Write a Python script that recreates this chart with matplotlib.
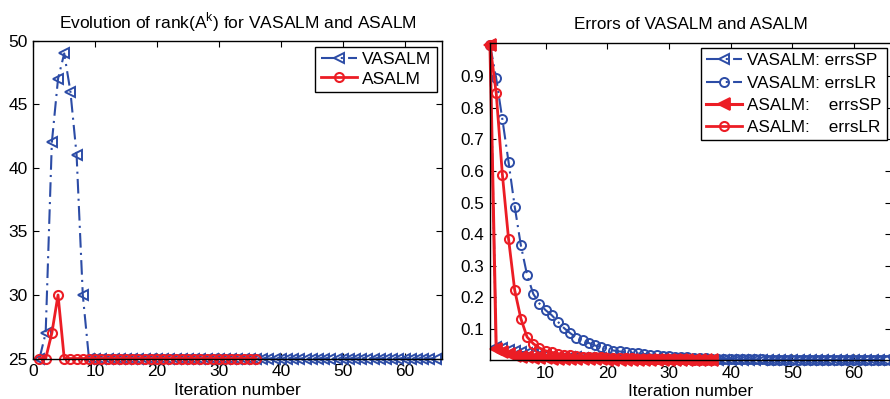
##############################################################################
# 1. modules
##############################################################################
import matplotlib

matplotlib.use("Agg")
import matplotlib.pyplot as plt

##############################################################################
# 2. settings / data
##############################################################################
OUT = "out.png"
BLUE = "#2c4ca6"
RED = "#ec1d25"
DASHDOT = (0, (7, 2.5, 1, 2.5))

plt.rcParams["font.family"] = ["Liberation Sans", "DejaVu Sans"]

# left panel: rank(A^k)
rank_vasalm = [25, 27, 42, 47, 49, 46, 41, 30] + [25] * 57
rank_asalm = [25, 25, 27, 30] + [25] * 32

# right panel: errors
vasalm_errs_sp = [
    1.0, 0.042, 0.038, 0.034, 0.030, 0.027, 0.024, 0.021, 0.018, 0.016,
    0.014, 0.012, 0.011, 0.010, 0.009, 0.008, 0.007, 0.006, 0.006, 0.005,
    0.005, 0.004, 0.004, 0.004, 0.003, 0.003, 0.003, 0.003, 0.003, 0.002,
    0.002, 0.002, 0.002, 0.002, 0.002, 0.002, 0.002, 0.002, 0.002, 0.002,
    0.002, 0.002, 0.001, 0.001, 0.001, 0.001, 0.001, 0.001, 0.001, 0.001,
    0.001, 0.001, 0.001, 0.001, 0.001, 0.001, 0.001, 0.001, 0.001, 0.001,
    0.001, 0.001, 0.001, 0.001, 0.001,
]
vasalm_errs_lr = [
    1.0, 0.894, 0.764, 0.629, 0.487, 0.364, 0.271, 0.211, 0.180, 0.159,
    0.143, 0.122, 0.102, 0.086, 0.072, 0.063, 0.055, 0.047, 0.042, 0.036,
    0.031, 0.028, 0.026, 0.024, 0.022, 0.020, 0.018, 0.016, 0.015, 0.014,
    0.012, 0.011, 0.009, 0.008, 0.007, 0.006, 0.005, 0.005, 0.004, 0.004,
    0.003, 0.003, 0.003, 0.003, 0.003, 0.002, 0.002, 0.002, 0.002, 0.002,
    0.002, 0.002, 0.002, 0.002, 0.002, 0.001, 0.001, 0.001, 0.001, 0.001,
    0.001, 0.001, 0.001, 0.001, 0.001,
]
asalm_errs_sp = [
    1.0, 0.035, 0.026, 0.019, 0.014, 0.011, 0.009, 0.008, 0.007, 0.006,
    0.005, 0.005, 0.004, 0.004, 0.004, 0.003, 0.003, 0.003, 0.003, 0.002,
    0.002, 0.002, 0.002, 0.002, 0.002, 0.002, 0.001, 0.001, 0.001, 0.001,
    0.001, 0.001, 0.001, 0.001, 0.001, 0.001, 0.001,
]
asalm_errs_lr = [
    1.0, 0.847, 0.589, 0.385, 0.222, 0.132, 0.074, 0.053, 0.039, 0.030,
    0.025, 0.021, 0.018, 0.016, 0.014, 0.012, 0.011, 0.010, 0.009, 0.008,
    0.007, 0.007, 0.006, 0.006, 0.005, 0.005, 0.004, 0.004, 0.004, 0.003,
    0.003, 0.003, 0.003, 0.002, 0.002, 0.002, 0.002,
]


##############################################################################
# 3. helpers
##############################################################################
def iters(values):
    return list(range(1, len(values) + 1))


def style_axes(ax, fs):
    ax.tick_params(direction="in", top=True, right=True, length=4,
                   width=0.8, labelsize=fs, pad=4)
    for sp in ax.spines.values():
        sp.set_linewidth(1.0)


def add_legend(ax, anchor, fs, spacing):
    leg = ax.legend(loc="upper right", bbox_to_anchor=anchor,
                    bbox_transform=ax.figure.transFigure, fontsize=fs,
                    fancybox=False, framealpha=1, edgecolor="black",
                    handlelength=2.1, handletextpad=0.3, borderpad=0.3,
                    labelspacing=spacing, borderaxespad=0)
    leg.get_frame().set_linewidth(1.0)
    leg.set_zorder(10)


def plot_rank(fig):
    fs = 12.5
    ax = fig.add_axes([0.0374, 0.1015, 0.4589, 0.7965])
    ax.plot(iters(rank_vasalm), rank_vasalm, linestyle=DASHDOT, color=BLUE,
            linewidth=1.5, marker="<", markersize=7, markerfacecolor="none",
            markeredgewidth=1.4, label="VASALM", clip_on=False)
    ax.plot(iters(rank_asalm), rank_asalm, "-", color=RED, linewidth=2.0,
            marker="o", markersize=6.5, markerfacecolor="none",
            markeredgewidth=1.5, label="ASALM", clip_on=False)
    ax.set_xlim(0, 66)
    ax.set_ylim(25, 50)
    ax.set_xticks(range(0, 61, 10))
    ax.set_yticks(range(25, 51, 5))
    style_axes(ax, fs)
    ax.set_title("Evolution of rank(A$^{\\mathregular{k}}$) for VASALM and ASALM",
                 fontsize=fs, pad=9)
    ax.set_xlabel("Iteration number", fontsize=fs, labelpad=2.5)
    add_legend(ax, (436.7 / 890, 1 - 46.7 / 399), fs, 0.25)


def plot_errors(fig):
    fs = 12.3
    ax = fig.add_axes([0.5506, 0.097, 0.4506, 0.7945])
    ax.plot(iters(vasalm_errs_sp), vasalm_errs_sp, linestyle=DASHDOT,
            color=BLUE, linewidth=1.5, marker="<", markersize=7,
            markerfacecolor="none", markeredgewidth=1.4,
            label="VASALM: errsSP", clip_on=False)
    ax.plot(iters(vasalm_errs_lr), vasalm_errs_lr, linestyle=DASHDOT,
            color=BLUE, linewidth=1.5, marker="o", markersize=6.5,
            markerfacecolor="none", markeredgewidth=1.4,
            label="VASALM: errsLR", clip_on=False)
    ax.plot(iters(asalm_errs_sp), asalm_errs_sp, "-", color=RED,
            linewidth=2.2, marker="<", markersize=9, markerfacecolor=RED,
            markeredgewidth=1.3, label="ASALM:    errsSP", clip_on=False)
    ax.plot(iters(asalm_errs_lr), asalm_errs_lr, "-", color=RED,
            linewidth=2.0, marker="o", markersize=6.5, markerfacecolor="none",
            markeredgewidth=1.5, label="ASALM:    errsLR", clip_on=False)
    ax.set_xlim(1, 66)
    ax.set_ylim(0, 1.005)
    ax.set_xticks(range(10, 61, 10))
    ax.set_yticks([0.1, 0.2, 0.3, 0.4, 0.5, 0.6, 0.7, 0.8, 0.9])
    style_axes(ax, fs)
    ax.set_title("Errors of VASALM and ASALM", fontsize=fs, pad=10)
    ax.set_xlabel("Iteration number", fontsize=fs, labelpad=2)
    add_legend(ax, (886.7 / 890, 1 - 48.3 / 399), fs, 0.42)


##############################################################################
# 4. main
##############################################################################
def main():
    fig = plt.figure(figsize=(8.9, 3.99), dpi=100)
    plot_rank(fig)
    plot_errors(fig)
    fig.savefig(OUT, dpi=100)


if __name__ == "__main__":
    main()
